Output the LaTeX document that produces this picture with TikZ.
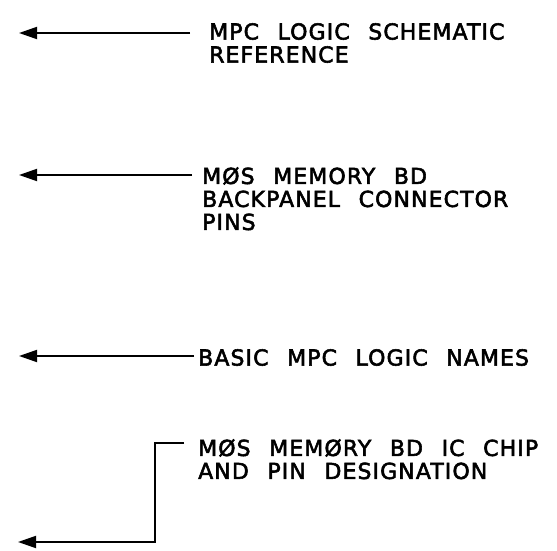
\documentclass[tikz,border=0pt]{standalone}
\usepackage{fontspec}
\setmainfont[LetterSpace=5,WordSpace=2.3,FakeBold=2.5]{DejaVu Sans}
\usetikzlibrary{arrows.meta}

\tikzset{
  leader/.style={line width=1.8pt, -{Triangle[length=18pt,width=12pt]}},
  note/.style={anchor=north west, inner sep=0pt, align=left,
    font=\fontsize{22}{23}\selectfont}
}

\begin{document}
\begin{tikzpicture}[x=1pt,y=-1pt]
  \useasboundingbox (0,0) rectangle (557,551);

  % Labels
  \node[note] (ref) at (209,23) {MPC LOGIC SCHEMATIC\\REFERENCE};
  \node[note] (pins) at (202,167) {MØS MEMORY BD\\BACKPANEL CONNECTOR\\PINS};
  \node[note] (names) at (198,349) {BASIC MPC LOGIC NAMES};
  \node[note] (chip) at (198,439) {MØS MEMØRY BD IC CHIP\\AND PIN DESIGNATION};

  % Leader ends
  \coordinate (refEnd) at (190,33);
  \coordinate (refTip) at (19,33);
  \coordinate (pinsEnd) at (192,175);
  \coordinate (pinsTip) at (19,175);
  \coordinate (namesEnd) at (194,356);
  \coordinate (namesTip) at (19,356);
  \coordinate (chipEnd) at (184,443);
  \coordinate (chipCorner) at (155,542);
  \coordinate (chipTip) at (18,542);

  % Leaders
  \draw[leader] (refEnd) -- (refTip);
  \draw[leader] (pinsEnd) -- (pinsTip);
  \draw[leader] (namesEnd) -- (namesTip);
  \draw[leader] (chipEnd) -| (chipCorner) -- (chipTip);
\end{tikzpicture}
\end{document}
